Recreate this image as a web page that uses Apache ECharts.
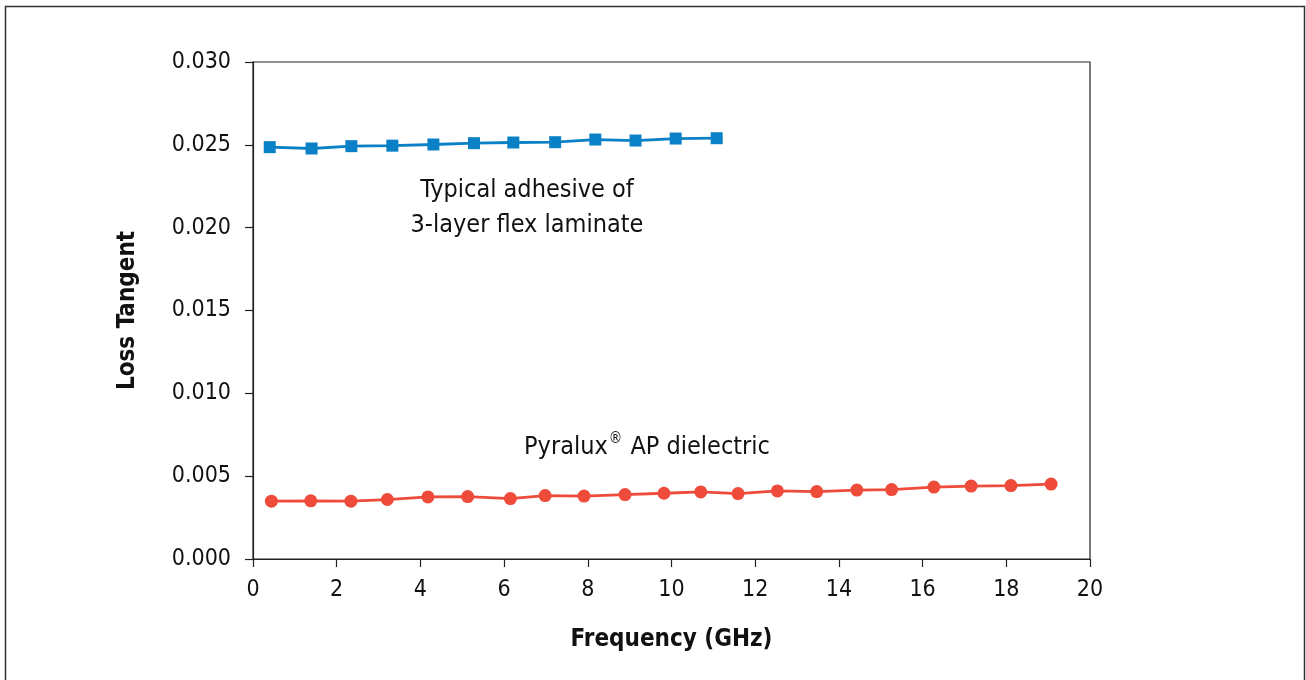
<!DOCTYPE html>
<html>
<head>
<meta charset="utf-8">
<script src="https://cdn.jsdelivr.net/npm/echarts@6/dist/echarts.min.js"></script>
<style>
html,body{margin:0;padding:0;background:#fff;}
#chart{width:1306px;height:680px;}
</style>
</head>
<body>
<div id="chart"></div>
<script>
// Data
const adhesiveFreq = [0.40, 1.40, 2.35, 3.33, 4.31, 5.28, 6.22, 7.22, 8.18, 9.14, 10.10, 11.08];
const adhesiveLoss = [0.02486, 0.02478, 0.02492, 0.02495, 0.02502, 0.02510, 0.02514, 0.02516, 0.02532, 0.02526, 0.02538, 0.02540];
const pyraluxFreq = [0.44, 1.38, 2.34, 3.21, 4.18, 5.13, 6.15, 6.98, 7.91, 8.89, 9.82, 10.70, 11.59, 12.53, 13.47, 14.43, 15.26, 16.27, 17.16, 18.11, 19.07];
const pyraluxLoss = [0.00349, 0.00351, 0.00349, 0.00359, 0.00375, 0.00377, 0.00365, 0.00383, 0.00380, 0.00389, 0.00397, 0.00405, 0.00395, 0.00411, 0.00407, 0.00416, 0.00419, 0.00434, 0.00440, 0.00443, 0.00452];
const xTicks = [0, 2, 4, 6, 8, 10, 12, 14, 16, 18, 20];
const yTicks = [0.000, 0.005, 0.010, 0.015, 0.020, 0.025, 0.030];
const xTitle = 'Frequency (GHz)';
const yTitle = 'Loss Tangent';
const adhesiveLabel = 'Typical adhesive of\n3-layer flex laminate';
const pyraluxName = 'Pyralux';
const pyraluxMark = '®';
const pyraluxRest = ' AP dielectric';

const FONT = '"Liberation Sans Narrow", "DejaVu Sans Condensed", "Roboto", sans-serif';
const FS = 23;
const FS_NOTE = 25;

const chart = echarts.init(document.getElementById('chart'), null, {renderer: 'canvas'});
const option = {
  backgroundColor: '#ffffff',
  animation: false,
  grid: {
    left: 253, right: 216, top: 62, bottom: 121,
    show: true, borderColor: '#222', borderWidth: 1.2, backgroundColor: 'transparent'
  },
  xAxis: {
    type: 'value',
    min: xTicks[0], max: xTicks[xTicks.length - 1], interval: 2,
    name: xTitle, nameLocation: 'middle', nameGap: 69,
    nameTextStyle: {fontFamily: FONT, fontSize: 24, fontWeight: 'bold', color: '#111'},
    axisLine: {show: true, onZero: false, lineStyle: {color: '#222', width: 1.2}},
    axisTick: {show: true, length: 8, inside: false, lineStyle: {color: '#222', width: 1.2}},
    splitLine: {show: false},
    axisLabel: {fontFamily: FONT, fontSize: FS, color: '#111', margin: 20}
  },
  yAxis: {
    type: 'value',
    min: yTicks[0], max: yTicks[yTicks.length - 1], interval: 0.005,
    name: yTitle, nameLocation: 'middle', nameGap: 113, nameRotate: 90,
    nameTextStyle: {fontFamily: FONT, fontSize: 24, fontWeight: 'bold', color: '#111'},
    axisLine: {show: true, lineStyle: {color: '#222', width: 1.2}},
    axisTick: {show: true, length: 8, inside: false, lineStyle: {color: '#222', width: 1.2}},
    splitLine: {show: false},
    axisLabel: {fontFamily: FONT, fontSize: FS, color: '#111', margin: 22,
      formatter: v => v.toFixed(3)}
  },
  graphic: [
    {type: 'rect', silent: true, z: -10, shape: {x: 5.5, y: 6.5, width: 1299, height: 700},
      style: {fill: 'none', stroke: '#333', lineWidth: 1.5}},
    {type: 'text', silent: true, z: 10,
      x: 527, y: 208,
      style: {text: adhesiveLabel, fontFamily: FONT, fontSize: FS_NOTE, fill: '#111',
        textAlign: 'center', textVerticalAlign: 'middle', lineHeight: 35}},
    {type: 'text', silent: true, z: 10,
      x: 647, y: 447,
      style: {
        text: '{a|' + pyraluxName + '}{s|' + pyraluxMark + '}{a|' + pyraluxRest + '}',
        textAlign: 'center', textVerticalAlign: 'middle',
        rich: {
          a: {fontFamily: FONT, fontSize: FS_NOTE, fill: '#111', color: '#111', lineHeight: 30},
          s: {fontFamily: FONT, fontSize: 15, fill: '#111', color: '#111', verticalAlign: 'top', lineHeight: 30, padding: [0, 1, 12, 1]}
        }
      }}
  ],
  series: [
    {
      type: 'line', name: 'adhesive',
      data: adhesiveFreq.map((f, i) => [f, adhesiveLoss[i]]),
      symbol: 'rect', symbolSize: 12,
      lineStyle: {color: '#0a80c6', width: 2.8},
      itemStyle: {color: '#0a80c6'}
    },
    {
      type: 'line', name: 'pyralux',
      data: pyraluxFreq.map((f, i) => [f, pyraluxLoss[i]]),
      symbol: 'circle', symbolSize: 13,
      lineStyle: {color: '#ee4b3b', width: 2.8},
      itemStyle: {color: '#ee4b3b'}
    }
  ]
};
chart.setOption(option);
</script>
</body>
</html>
